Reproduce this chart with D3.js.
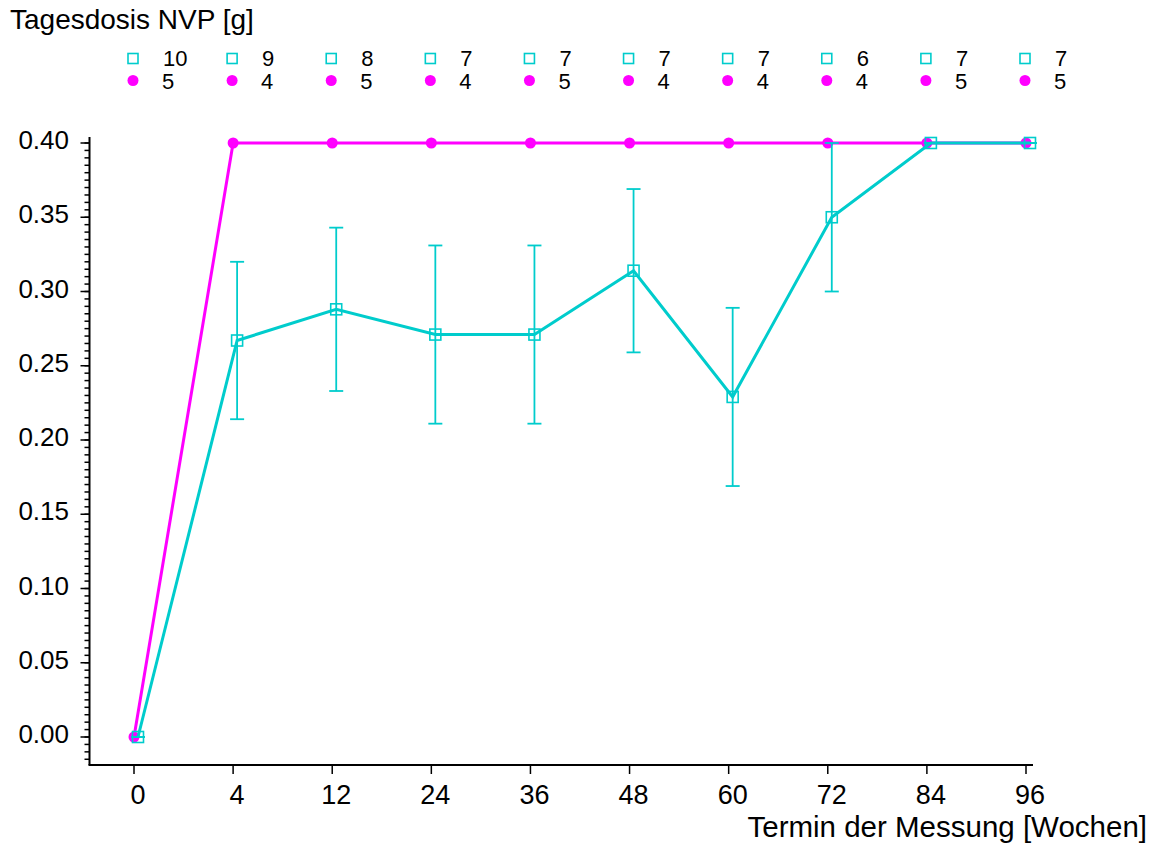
<!DOCTYPE html>
<html>
<head>
<meta charset="utf-8">
<script src="https://cdn.jsdelivr.net/npm/d3@7/dist/d3.min.js"></script>
<style>
  html, body { margin: 0; padding: 0; background: #fff; }
  svg { display: block; }
  text { font-family: "Liberation Sans", Arial, Helvetica, sans-serif; fill: #000; }
</style>
</head>
<body>
<svg id="chart" width="1149" height="843"></svg>
<script>
// Measurement dates (weeks)
const weeks = ["0", "4", "12", "24", "36", "48", "60", "72", "84", "96"];

// Group A (cyan squares): mean daily NVP dose and standard deviation
const groupAMean = [0, 0.267, 0.288, 0.271, 0.271, 0.314, 0.229, 0.350, 0.400, 0.400];
const groupASD   = [0, 0.053, 0.055, 0.060, 0.060, 0.055, 0.060, 0.050, 0, 0];
const groupAN    = [10, 9, 8, 7, 7, 7, 7, 6, 7, 7];

// Group B (magenta dots): mean daily NVP dose
const groupBMean = [0, 0.40, 0.40, 0.40, 0.40, 0.40, 0.40, 0.40, 0.40, 0.40];
const groupBN    = [5, 4, 5, 4, 5, 4, 4, 4, 5, 5];

// Y axis tick values
const yTickValues = [0.00, 0.05, 0.10, 0.15, 0.20, 0.25, 0.30, 0.35, 0.40];
const yMinorStep = 0.005;

const CYAN = "#00CCCC";
const MAGENTA = "#FF00FF";

const svg = d3.select("#chart");

// Plot frame
const axisLeft = 89.5, axisRight = 1033, axisBottom = 765;
const yHigh = 0.404;

const x = d3.scalePoint().domain(weeks).range([134, 1026]);
const y = d3.scaleLinear().domain([0, 0.4]).range([737, 143]);
const dodge = 4; // group A drawn slightly right of its date

// ---- Y axis ----
const yAxisG = svg.append("g");
yAxisG.append("line")
  .attr("x1", axisLeft).attr("x2", axisLeft)
  .attr("y1", y(yHigh)).attr("y2", axisBottom)
  .attr("stroke", "#000").attr("stroke-width", 2);

const minorTicks = d3.range(-0.015, 0.4001, yMinorStep).map(v => +v.toFixed(3));
yAxisG.selectAll("line.minor").data(minorTicks).join("line")
  .attr("class", "minor")
  .attr("x1", axisLeft - 5).attr("x2", axisLeft)
  .attr("y1", d => y(d)).attr("y2", d => y(d))
  .attr("stroke", "#000").attr("stroke-width", 1.5);

yAxisG.selectAll("line.major").data(yTickValues).join("line")
  .attr("class", "major")
  .attr("x1", axisLeft - 9).attr("x2", axisLeft)
  .attr("y1", d => y(d)).attr("y2", d => y(d))
  .attr("stroke", "#000").attr("stroke-width", 1.5);

yAxisG.selectAll("text").data(yTickValues).join("text")
  .attr("x", 69).attr("y", d => y(d) + 6)
  .attr("text-anchor", "end")
  .attr("font-size", 26)
  .text(d => d3.format(".2f")(d));

// ---- X axis ----
const xAxisG = svg.append("g");
xAxisG.append("line")
  .attr("x1", axisLeft - 1).attr("x2", axisRight)
  .attr("y1", axisBottom).attr("y2", axisBottom)
  .attr("stroke", "#000").attr("stroke-width", 2);

xAxisG.selectAll("line.tick").data(weeks).join("line")
  .attr("class", "tick")
  .attr("x1", d => x(d)).attr("x2", d => x(d))
  .attr("y1", axisBottom + 1).attr("y2", axisBottom + 9)
  .attr("stroke", "#000").attr("stroke-width", 1.5);

xAxisG.selectAll("text").data(weeks).join("text")
  .attr("x", d => x(d) + 4).attr("y", 804)
  .attr("text-anchor", "middle")
  .attr("font-size", 27)
  .text(d => d);

// ---- Axis titles ----
svg.append("text")
  .attr("x", 10).attr("y", 29)
  .attr("font-size", 28)
  .text("Tagesdosis NVP [g]");

svg.append("text")
  .attr("x", 1147).attr("y", 837)
  .attr("text-anchor", "end")
  .attr("font-size", 29.5)
  .text("Termin der Messung [Wochen]");

// ---- Group B line and dots ----
const lineB = d3.line().x((d, i) => x(weeks[i])).y(d => y(d));
svg.append("path")
  .datum(groupBMean)
  .attr("d", lineB)
  .attr("fill", "none")
  .attr("stroke", MAGENTA)
  .attr("stroke-width", 3);

svg.selectAll("circle.b").data(groupBMean).join("circle")
  .attr("class", "b")
  .attr("cx", (d, i) => x(weeks[i]))
  .attr("cy", d => y(d))
  .attr("r", 5.5)
  .attr("fill", MAGENTA);

// ---- Group A error bars, line and squares ----
const errG = svg.append("g").attr("stroke", CYAN).attr("stroke-width", 1.8).attr("fill", "none");
groupAMean.forEach((m, i) => {
  const cx = x(weeks[i]) + dodge;
  const sd = groupASD[i];
  const top = y(m + sd), bot = y(m - sd);
  errG.append("line").attr("x1", cx).attr("x2", cx).attr("y1", top).attr("y2", bot);
  errG.append("line").attr("x1", cx - 7).attr("x2", cx + 7).attr("y1", top).attr("y2", top);
  errG.append("line").attr("x1", cx - 7).attr("x2", cx + 7).attr("y1", bot).attr("y2", bot);
});

const lineA = d3.line().x((d, i) => x(weeks[i]) + dodge).y(d => y(d));
svg.append("path")
  .datum(groupAMean)
  .attr("d", lineA)
  .attr("fill", "none")
  .attr("stroke", CYAN)
  .attr("stroke-width", 3)
  .attr("stroke-linejoin", "miter");

svg.selectAll("rect.a").data(groupAMean).join("rect")
  .attr("class", "a")
  .attr("x", (d, i) => x(weeks[i]) + dodge - 5.5)
  .attr("y", d => y(d) - 5.5)
  .attr("width", 11).attr("height", 11)
  .attr("fill", "none")
  .attr("stroke", CYAN)
  .attr("stroke-width", 1.6);

// ---- Sample sizes per date, above the plot ----
const nG = svg.append("g");
nG.selectAll("rect").data(groupAN).join("rect")
  .attr("x", (d, i) => x(weeks[i]) - 1 - 5)
  .attr("y", 58.5 - 5)
  .attr("width", 10).attr("height", 10)
  .attr("fill", "none")
  .attr("stroke", CYAN)
  .attr("stroke-width", 1.6);
nG.selectAll("text.na").data(groupAN).join("text")
  .attr("class", "na")
  .attr("x", (d, i) => x(weeks[i]) + 29)
  .attr("y", 66)
  .attr("font-size", 22)
  .text(d => d);
nG.selectAll("circle").data(groupBN).join("circle")
  .attr("cx", (d, i) => x(weeks[i]) - 1)
  .attr("cy", 80.5)
  .attr("r", 5.5)
  .attr("fill", MAGENTA);
nG.selectAll("text.nb").data(groupBN).join("text")
  .attr("class", "nb")
  .attr("x", (d, i) => x(weeks[i]) + 28)
  .attr("y", 89)
  .attr("font-size", 22)
  .text(d => d);
</script>
</body>
</html>
